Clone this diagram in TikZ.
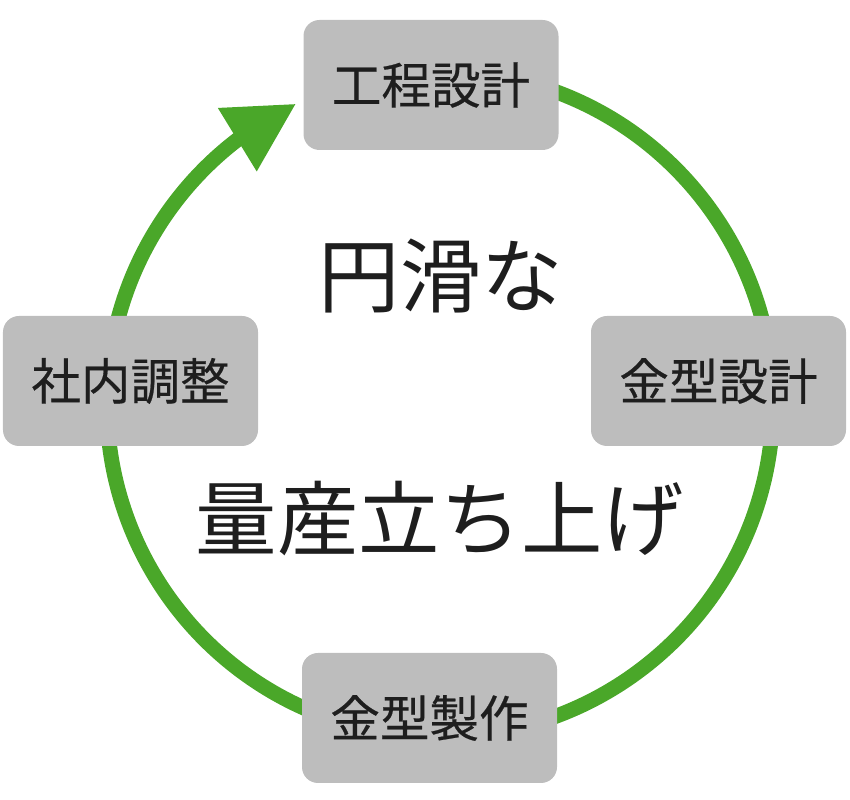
\documentclass[tikz,border=0pt]{standalone}
\usepackage{fontspec}
\setmainfont{Noto Sans CJK JP}
\newfontfamily\boxfont{Noto Sans CJK JP}[FakeBold=0.4]
\usetikzlibrary{arrows.meta,bending}
\definecolor{ringgreen}{RGB}{74,167,41}
\definecolor{boxgray}{RGB}{189,189,189}
\definecolor{inkgray}{RGB}{30,30,30}
\tikzset{
  stepbox/.style={fill=boxgray, rounded corners=0.32cm, minimum width=5.1cm,
    minimum height=2.6cm, inner sep=0pt, text=inkgray,
    font=\boxfont\fontsize{28.2}{33}\selectfont},
  bigtext/.style={text=inkgray, font=\fontsize{46.3}{54}\selectfont, inner sep=0pt},
  ring/.style={draw=ringgreen, line width=0.3cm,
    -{Triangle[length=1.38cm, width=1.4cm]}}
}
\begin{document}
\begin{tikzpicture}
    \useasboundingbox (0,0) rectangle (17,16);
    % 円
    \coordinate (hub) at (8.8,7.92);
    \draw[ring] (hub) ++(80:6.66) arc[start angle=80, end angle=-244.4, radius=6.66];
    % 工程
    \node[stepbox] (koutei) at (8.62,14.3) {工程設計};
    \node[stepbox] (kanagata) at (14.37,8.38) {金型設計};
    \node[stepbox] (seisaku) at (8.59,1.64) {金型製作};
    \node[stepbox] (chousei) at (2.61,8.38) {社内調整};
    % 中央
    \node[bigtext] (enkatsu) at (8.82,10.48) {円滑な};
    \node[bigtext] (tachiage) at (8.8,5.62) {量産立ち上げ};
\end{tikzpicture}
\end{document}
